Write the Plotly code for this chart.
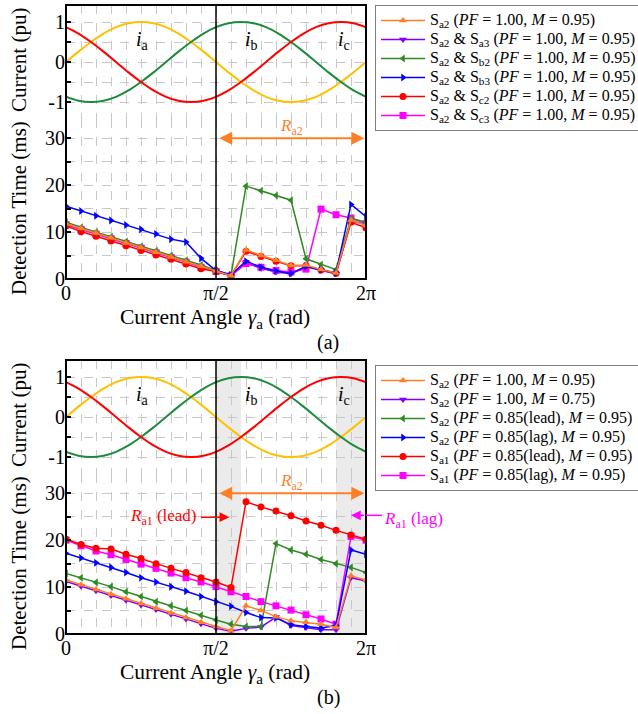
import plotly.graph_objects as go

W, H = 638, 714
FONT = "Liberation Serif"

# ---------------- data ----------------
angle_deg = [0, 18, 36, 54, 72, 90, 108, 126, 144, 162, 180,
             198, 216, 234, 252, 270, 288, 306, 324, 342, 360]
x_tick_text = ["0", "", "", "", "", "", "", "", "", "", "π/2",
               "", "", "", "", "", "", "", "", "", "2π"]

wave_deg = [0, 15, 30, 45, 60, 75, 90, 105, 120, 135, 150, 165, 180,
            195, 210, 225, 240, 255, 270, 285, 300, 315, 330, 345, 360]
ia = [0, 0.26, 0.5, 0.71, 0.87, 0.97, 1, 0.97, 0.87, 0.71, 0.5, 0.26, 0,
      -0.26, -0.5, -0.71, -0.87, -0.97, -1, -0.97, -0.87, -0.71, -0.5, -0.26, 0]
ib = [-0.87, -0.97, -1, -0.97, -0.87, -0.71, -0.5, -0.26, 0, 0.26, 0.5, 0.71, 0.87,
      0.97, 1, 0.97, 0.87, 0.71, 0.5, 0.26, 0, -0.26, -0.5, -0.71, -0.87]
ic = [0.87, 0.71, 0.5, 0.26, 0, -0.26, -0.5, -0.71, -0.87, -0.97, -1, -0.97, -0.87,
      -0.71, -0.5, -0.26, 0, 0.26, 0.5, 0.71, 0.87, 0.97, 1, 0.97, 0.87]

# panel (a)
orange_a = [11.8, 10.8, 9.8, 8.8, 7.7, 6.7, 5.7, 4.7, 3.7, 2.7, 1.7, 0.7, 6.2, 5.0, 4.0, 2.9, 3.0, 2.0, 1.3, 12.6, 11.4]
purple_a = [11.7, 10.7, 9.7, 8.7, 7.8, 6.8, 5.7, 4.7, 3.7, 2.6, 1.7, 0.7, 3.4, 2.3, 1.5, 1.1, 2.6, 1.8, 1.1, 12.4, 11.6]
green_a = [12.1, 11.0, 10.0, 9.0, 8.0, 7.0, 6.0, 5.0, 4.0, 3.0, 1.8, 0.8, 19.8, 18.8, 17.8, 16.8, 4.3, 3.1, 2.0, 12.9, 12.1]
blue_a = [15.5, 14.5, 13.5, 12.5, 11.5, 10.6, 9.6, 8.5, 7.9, 4.4, 1.8, 0.9, 3.8, 2.5, 1.7, 1.2, 2.7, 2.0, 1.3, 15.9, 13.3]
red_a = [11.3, 10.1, 9.1, 8.1, 7.1, 6.1, 5.1, 4.2, 3.2, 2.2, 1.6, 0.7, 5.9, 4.8, 3.8, 2.8, 2.8, 1.9, 1.2, 12.1, 10.9]
magenta_a = [11.6, 10.6, 9.6, 8.6, 7.6, 6.6, 5.6, 4.6, 3.6, 2.5, 1.6, 0.7, 3.3, 2.5, 1.8, 1.5, 2.1, 14.9, 13.7, 13.0, 11.8]

# panel (b)
orange_b = [11.5, 10.5, 9.5, 8.5, 7.5, 6.5, 5.5, 4.5, 3.5, 2.5, 1.6, 0.7, 6.0, 5.0, 3.7, 2.8, 2.5, 2.1, 1.4, 12.4, 11.5]
purple_b = [11.2, 10.2, 9.2, 8.2, 7.2, 6.2, 5.2, 4.2, 3.2, 2.2, 1.2, 0.6, 1.2, 1.5, 3.6, 1.8, 1.4, 0.9, 0.9, 12.0, 11.3]
green_b = [12.9, 12.0, 11.0, 10.1, 9.0, 8.0, 6.9, 6.0, 5.0, 4.0, 3.0, 2.1, 1.6, 1.6, 19.3, 17.9, 17.0, 15.9, 15.0, 14.2, 13.1]
blue_b = [17.2, 16.2, 15.2, 14.2, 13.1, 12.0, 11.1, 10.1, 9.1, 8.0, 6.9, 5.9, 4.6, 3.5, 3.4, 2.0, 1.6, 1.3, 1.8, 17.9, 17.0]
red_b = [20.2, 19.1, 18.3, 18.1, 17.0, 16.1, 15.0, 14.0, 13.1, 12.0, 11.1, 9.9, 28.2, 27.1, 26.2, 25.2, 24.1, 23.2, 22.1, 21.1, 20.2]
magenta_b = [20.0, 18.8, 17.7, 16.9, 15.9, 14.9, 14.0, 13.0, 12.0, 11.1, 10.1, 9.0, 8.0, 6.9, 6.0, 5.1, 4.1, 3.2, 2.1, 20.8, 20.0]

names_a = [
    "S<sub>a2</sub> (<i>PF</i> = 1.00, <i>M</i> = 0.95)",
    "S<sub>a2</sub> &amp; S<sub>a3</sub> (<i>PF</i> = 1.00, <i>M</i> = 0.95)",
    "S<sub>a2</sub> &amp; S<sub>b2</sub> (<i>PF</i> = 1.00, <i>M</i> = 0.95)",
    "S<sub>a2</sub> &amp; S<sub>b3</sub> (<i>PF</i> = 1.00, <i>M</i> = 0.95)",
    "S<sub>a2</sub> &amp; S<sub>c2</sub> (<i>PF</i> = 1.00, <i>M</i> = 0.95)",
    "S<sub>a2</sub> &amp; S<sub>c3</sub> (<i>PF</i> = 1.00, <i>M</i> = 0.95)",
]
names_b = [
    "S<sub>a2</sub> (<i>PF</i> = 1.00, <i>M</i> = 0.95)",
    "S<sub>a2</sub> (<i>PF</i> = 1.00, <i>M</i> = 0.75)",
    "S<sub>a2</sub> (<i>PF</i> = 0.85(lead), <i>M</i> = 0.95)",
    "S<sub>a2</sub> (<i>PF</i> = 0.85(lag), <i>M</i> = 0.95)",
    "S<sub>a1</sub> (<i>PF</i> = 0.85(lead), <i>M</i> = 0.95)",
    "S<sub>a1</sub> (<i>PF</i> = 0.85(lag), <i>M</i> = 0.95)",
]
series_a = [orange_a, purple_a, green_a, blue_a, red_a, magenta_a]
series_b = [orange_b, purple_b, green_b, blue_b, red_b, magenta_b]

colors = ["#FF7F27", "#7F00FF", "#2E8B22", "#0000FF", "#FF0000", "#FF00FF"]
symbols = ["triangle-up", "triangle-down", "triangle-left", "triangle-right", "circle", "square"]
draw_order = [1, 5, 4, 2, 3, 0]

wave_colors = ["#FFC000", "#1E8B3C", "#FF0000"]

# ---------------- helpers (pixel -> paper) ----------------
def fx(px):
    return px / W

def fy(py):
    return 1 - py / H

L, R = 66, 366
panels = [
    dict(top=5, mid=119, bot=279, xa="x", yd="y", yc="y2", legend="legend",
         series=series_a, names=names_a, label="(a)"),
    dict(top=360, mid=474, bot=634, xa="x2", yd="y3", yc="y4", legend="legend2",
         series=series_b, names=names_b, label="(b)"),
]

fig = go.Figure()

grid = dict(showgrid=True, gridcolor="#C8C8C8", griddash="dash", gridwidth=1,
            zeroline=False, showline=False)
tickfont = dict(family=FONT, size=20, color="black")

for p in panels:
    for wv, col in zip([ia, ib, ic], wave_colors):
        fig.add_trace(go.Scatter(x=wave_deg, y=wv, mode="lines", line=dict(color=col, width=2, shape="spline"),
                                 xaxis=p["xa"], yaxis=p["yc"], showlegend=False, hoverinfo="skip"))
    for k in draw_order:
        fig.add_trace(go.Scatter(
            x=angle_deg, y=p["series"][k], mode="lines+markers",
            name='<span style="font-size:16px">' + p["names"][k] + "</span>",
            line=dict(color=colors[k], width=1.5),
            marker=dict(symbol=symbols[k], size=7, color=colors[k]),
            xaxis=p["xa"], yaxis=p["yd"], legend=p["legend"], legendrank=k + 1))

layout = dict(
    width=W, height=H, autosize=False,
    margin=dict(l=0, r=0, t=0, b=0, autoexpand=False),
    paper_bgcolor="white", plot_bgcolor="rgba(0,0,0,0)",
    font=dict(family=FONT, color="black"),
)

shapes = []
annotations = []


def txt(x, y, text, size=20, color="black", angle=0, xref="paper", yref="paper", xanchor="center"):
    return dict(xref=xref, yref=yref, x=x, y=y, text=text, textangle=angle, showarrow=False,
                xanchor=xanchor, yanchor="middle", font=dict(family=FONT, size=size, color=color))


for idx, p in enumerate(panels):
    xname = "xaxis" if idx == 0 else "xaxis2"
    ydn = "yaxis" if idx == 0 else "yaxis3"
    ycn = "yaxis2" if idx == 0 else "yaxis4"
    layout[xname] = dict(domain=[fx(L), fx(R)], range=[0, 360], anchor=p["yd"],
                         tickmode="array", tickvals=angle_deg, ticktext=x_tick_text,
                         ticks="", tickfont=tickfont, **grid)
    layout[ydn] = dict(domain=[fy(p["bot"]), fy(p["mid"])], range=[0, (p["bot"] - p["mid"]) / 4.69],
                       anchor=p["xa"], tickmode="array", tickvals=[0, 5, 10, 15, 20, 25, 30],
                       ticktext=["0", "", "10", "", "20", "", "30"], ticks="inside", ticklen=5,
                       tickcolor="black", tickwidth=1.5, tickfont=tickfont, **grid)
    layout[ycn] = dict(domain=[fy(p["mid"]), fy(p["top"])], range=[-1.425, 1.425],
                       anchor=p["xa"], tickmode="array", tickvals=[-1, -0.5, 0, 0.5, 1],
                       ticktext=["-1", "", "0", "", "1"], ticks="inside", ticklen=5,
                       tickcolor="black", tickwidth=1.5, tickfont=tickfont, **grid)

    shapes.append(dict(type="rect", xref="paper", yref="paper", x0=fx(L), x1=fx(R),
                       y0=fy(p["bot"]), y1=fy(p["top"]), line=dict(color="black", width=2),
                       fillcolor="rgba(0,0,0,0)", layer="above"))
    shapes.append(dict(type="line", xref=p["xa"], yref="paper", x0=180, x1=180,
                       y0=fy(p["bot"]), y1=fy(p["top"]), line=dict(color="black", width=1.5),
                       layer="above"))

    annotations.append(txt(fx(19), fy(p["top"] + 55), "Current (pu)", size=21, angle=-90))
    annotations.append(txt(fx(19), fy(p["top"] + 203), "Detection Time (ms)", size=21, angle=-90))
    annotations.append(txt(fx(215), fy(p["top"] + 313), "Current Angle <i>γ</i><sub>a</sub> (rad)", size=21.5))
    annotations.append(txt(fx(328), fy(p["top"] + 337), p["label"]))
    for t, xd in [("<i>i</i><sub>a</sub>", 92), ("<i>i</i><sub>b</sub>", 222), ("<i>i</i><sub>c</sub>", 333)]:
        annotations.append(txt(xd, 0.53, t, xref=p["xa"], yref=p["yc"]))
    annotations.append(dict(xref=p["xa"], yref=p["yd"], x=358, y=30, axref=p["xa"], ayref=p["yd"],
                            ax=182, ay=30, text="", showarrow=True, arrowhead=2, startarrowhead=2,
                            arrowside="end+start", arrowsize=1.3, arrowwidth=2, arrowcolor="#FF7F27",
                            standoff=0, startstandoff=0))
    annotations.append(txt(271, 32.4, "<i>R</i><sub>a2</sub>", size=17, color="#FF7F27",
                           xref=p["xa"], yref=p["yd"]))

for x0, x1 in [(180, 210), (324, 360)]:
    shapes.append(dict(type="rect", xref="x2", yref="paper", x0=x0, x1=x1,
                       y0=fy(634), y1=fy(360), fillcolor="#EBEBEB", line=dict(width=0), layer="below"))

annotations.append(dict(xref="x2", yref="y3", x=196, y=24.9, axref="x2", ayref="y3", ax=160, ay=24.9,
                        text="", showarrow=True, arrowhead=2, arrowsize=1.3, arrowwidth=1.5,
                        arrowcolor="#FF0000", standoff=0))
annotations.append(txt(160, 24.9, "<i>R</i><sub>a1</sub> (lead)", size=17, color="#FF0000",
                       xref="x2", yref="y3", xanchor="right"))
annotations.append(dict(xref="x2", yref="y3", x=342, y=25.3, axref="x2", ayref="y3", ax=359.5, ay=25.3,
                        text="", showarrow=True, arrowhead=2, arrowsize=1.3, arrowwidth=1.5,
                        arrowcolor="#FF00FF", standoff=0))
shapes.append(dict(type="line", xref="paper", yref="y3", x0=fx(366), x1=fx(382), y0=25.3, y1=25.3,
                   line=dict(color="#FF00FF", width=1.5), layer="above"))
annotations.append(txt(fx(382), 24.4, "<i>R</i><sub>a1</sub> (lag)", size=17, color="#FF00FF",
                       xref="paper", yref="y3", xanchor="left"))

leg_common = dict(xanchor="left", yanchor="top", bgcolor="white", bordercolor="#7F7F7F",
                  borderwidth=1, font=dict(family=FONT, size=11, color="black"),
                  itemwidth=44, tracegroupgap=0, traceorder="normal")
layout["legend"] = dict(x=fx(375), y=fy(5), **leg_common)
layout["legend2"] = dict(x=fx(375), y=fy(365), **leg_common)
layout["shapes"] = shapes
layout["annotations"] = annotations

fig.update_layout(**layout)
fig.write_html("out.html")
